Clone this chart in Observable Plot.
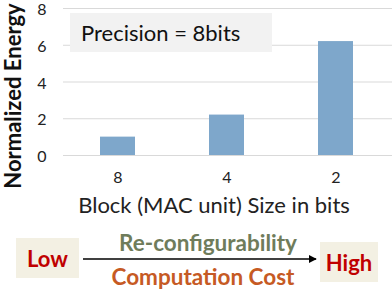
<!DOCTYPE html>
<html><head><meta charset="utf-8">
<script src="https://cdn.jsdelivr.net/npm/d3@7"></script>
<script src="https://cdn.jsdelivr.net/npm/@observablehq/plot@0.6"></script>
<style>
body{margin:0;background:#fff;font-family:Lato,"Open Sans",sans-serif;}
#wrap{position:relative;width:392px;height:292px;overflow:hidden;}
#wrap svg.plot{position:absolute;left:0;top:0;overflow:visible;}
.ov{position:absolute;white-space:nowrap;}
.ylab{left:12px;top:96px;transform:translate(-50%,-50%) rotate(-90deg);font-size:22px;font-weight:bold;color:#111;}
.prec{left:70px;top:13px;width:202px;height:39px;background:#f2f2f2;font-size:22px;line-height:39px;padding-left:11px;box-sizing:border-box;color:#111;}
.box{background:#f3f0e3;color:#c00000;font-weight:bold;font-size:22px;display:flex;align-items:center;justify-content:center;}
.ctr{transform:translate(-50%,-50%);font-weight:bold;font-size:22.5px;}
</style></head><body><div id="wrap"></div>
<script>
const blockSizes = ["8", "4", "2"];
const energy = [1.0, 2.2, 6.2];
const yTicks = [0, 2, 4, 6, 8];
const precisionLabel = "Precision = 8bits";
const xLabel = "Block (MAC unit) Size in bits";
const yLabel = "Normalized Energy";
const lowLabel = "Low";
const highLabel = "High";
const topArrowLabel = "Re-configurability";
const bottomArrowLabel = "Computation Cost";

const data = blockSizes.map((b, i) => ({block: b, energy: energy[i]}));

const chart = Plot.plot({
  width: 392, height: 222,
  marginLeft: 63, marginRight: 28, marginTop: 8, marginBottom: 67,
  style: {fontFamily: "Lato, 'Open Sans', sans-serif", fontSize: "15px", color: "#222", background: "transparent"},
  x: {type: "band", domain: blockSizes, range: [63, 390], paddingInner: 0.68, paddingOuter: 0.34},
  y: {domain: [0, 8], ticks: yTicks},
  marks: [
    Plot.ruleY(yTicks, {stroke: "#d9d9d9", strokeWidth: 1.2, insetRight: -28}),
    Plot.barY(data, {x: "block", y: "energy", fill: "#7ea7cb"}),
    Plot.axisY(yTicks, {tickSize: 0, tickPadding: 17, label: null, fontSize: 16, dy: 1.5}),
    Plot.axisX({tickSize: 0, tickPadding: 16, label: xLabel, labelAnchor: "center", labelOffset: 57, labelArrow: "none", fontSize: 16})
  ]
});
d3.select(chart).selectAll('[aria-label="x-axis label"] text').style("font-size", "22px");

const wrap = document.getElementById("wrap");
wrap.appendChild(chart);

function ov(cls, text, css) {
  const d = document.createElement("div");
  d.className = "ov " + cls;
  d.textContent = text;
  Object.assign(d.style, css || {});
  wrap.appendChild(d);
  return d;
}
ov("ylab", yLabel);
ov("prec", precisionLabel);
ov("box", lowLabel, {left: "16px", top: "238px", width: "63px", height: "40px"});
ov("box", highLabel, {left: "320px", top: "242px", width: "58px", height: "40px"});
ov("ctr", topArrowLabel, {left: "208px", top: "242px", color: "#6f7c5b"});
ov("ctr", bottomArrowLabel, {left: "203px", top: "276px", color: "#c65a24"});

const arrow = d3.select(wrap).append("svg")
  .attr("width", 392).attr("height", 292)
  .style("position", "absolute").style("left", 0).style("top", 0).style("pointer-events", "none");
arrow.append("defs").append("marker").attr("id", "ah")
  .attr("viewBox", "0 0 10 10").attr("refX", 9).attr("refY", 5)
  .attr("markerWidth", 8).attr("markerHeight", 8).attr("orient", "auto")
  .attr("markerUnits", "userSpaceOnUse")
  .append("path").attr("d", "M0,0L10,5L0,10z").attr("fill", "#000");
arrow.append("line").attr("x1", 83).attr("x2", 316).attr("y1", 259).attr("y2", 259)
  .attr("stroke", "#000").attr("stroke-width", 1.6).attr("marker-end", "url(#ah)");
</script></body></html>
